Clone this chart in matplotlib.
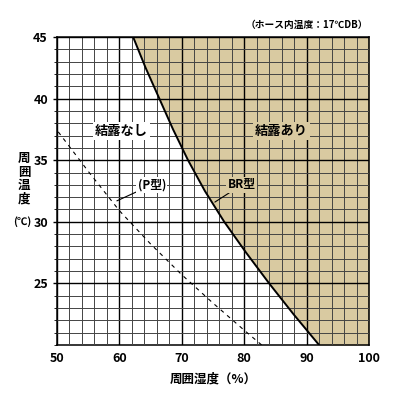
import matplotlib
matplotlib.use('Agg')
import matplotlib.pyplot as plt
from matplotlib.ticker import MultipleLocator

plt.rcParams['font.family'] = ['Noto Sans CJK JP', 'DejaVu Sans']

# values
br_temp = [45, 42.5, 40, 37.5, 35, 32.5, 30, 27.5, 25, 22.5, 20]
br_humid = [62.2, 64.2, 66.4, 68.6, 71.0, 73.7, 76.8, 80.3, 84.0, 87.9, 92.0]
p_humid = [50.2, 55, 60, 65, 70, 75, 80, 82.8]
p_temp = [37.3, 34.1, 30.9, 28.2, 25.7, 23.4, 21.2, 20.0]
x_ticks = [50, 60, 70, 80, 90, 100]
y_ticks = [25, 30, 35, 40, 45]

TAN = '#d9caa1'
W, H = 397, 396

fig = plt.figure(figsize=(W / 100, H / 100), dpi=100)
ax = fig.add_axes([57 / W, 1 - 345 / H, 312 / W, 308 / H])

ax.fill_betweenx(br_temp, br_humid, 100, color=TAN, zorder=0, lw=0)

# grid: 2% x 1degC, heavier every 10% / 5degC
ax.xaxis.set_minor_locator(MultipleLocator(2))
ax.yaxis.set_minor_locator(MultipleLocator(1))
ax.grid(which='minor', color='#444444', lw=0.7, zorder=1)
ax.grid(which='major', color='black', lw=1.0, zorder=1)
ax.set_axisbelow(False)

ax.plot(br_humid, br_temp, color='black', lw=1.4, zorder=3)
ax.plot(p_humid, p_temp, color='black', lw=0.8, dashes=(3.5, 4), zorder=3)

ax.set_xlim(50, 100)
ax.set_ylim(20, 45)
ax.set_xticks(x_ticks)
ax.set_yticks(y_ticks)
ax.tick_params(which='both', direction='out', labelsize=9)
ax.tick_params(which='major', length=3, width=1)
ax.tick_params(which='minor', length=2, width=0.6)
ax.tick_params(axis='x', which='both', length=0, pad=5)
for lbl in ax.get_xticklabels() + ax.get_yticklabels():
    lbl.set_fontweight('bold')
for s in ax.spines.values():
    s.set_linewidth(1.1)

ax.text(60.3, 37.4, '結露なし', ha='center', va='center', fontsize=9.5,
        fontweight='bold', zorder=4,
        bbox=dict(facecolor='white', edgecolor='none', pad=1.5))
ax.text(86.0, 37.4, '結露あり', ha='center', va='center', fontsize=9.5,
        fontweight='bold', zorder=4,
        bbox=dict(facecolor=TAN, edgecolor='none', pad=1.5))

ax.annotate('(P型)', xy=(59.6, 31.7), xytext=(65.2, 33.0), ha='center', va='center',
            fontsize=8.5, fontweight='bold', zorder=4,
            bbox=dict(facecolor='white', edgecolor='none', pad=1),
            arrowprops=dict(arrowstyle='-', color='black', lw=0.8, shrinkA=0, shrinkB=0))
ax.annotate('BR型', xy=(75.3, 31.6), xytext=(79.6, 33.0), ha='center', va='center',
            fontsize=8.5, fontweight='bold', zorder=4,
            bbox=dict(facecolor=TAN, edgecolor='none', pad=1),
            arrowprops=dict(arrowstyle='-', color='black', lw=0.8, shrinkA=0, shrinkB=0))

fig.text(368 / W, 1 - 25 / H, '（ホース内温度：17℃DB）', ha='right', va='center',
         fontsize=7, fontweight='bold')
fig.text(213 / W, 1 - 379 / H, '周囲湿度（%）', ha='center', va='center',
         fontsize=9, fontweight='bold')
fig.text(24 / W, 1 - 179 / H, '周\n囲\n温\n度', ha='center', va='center',
         fontsize=9, fontweight='bold', linespacing=1.05)
fig.text(22 / W, 1 - 222 / H, '(℃)', ha='center', va='center',
         fontsize=7.5, fontweight='bold')

fig.savefig('out.png', dpi=100)
